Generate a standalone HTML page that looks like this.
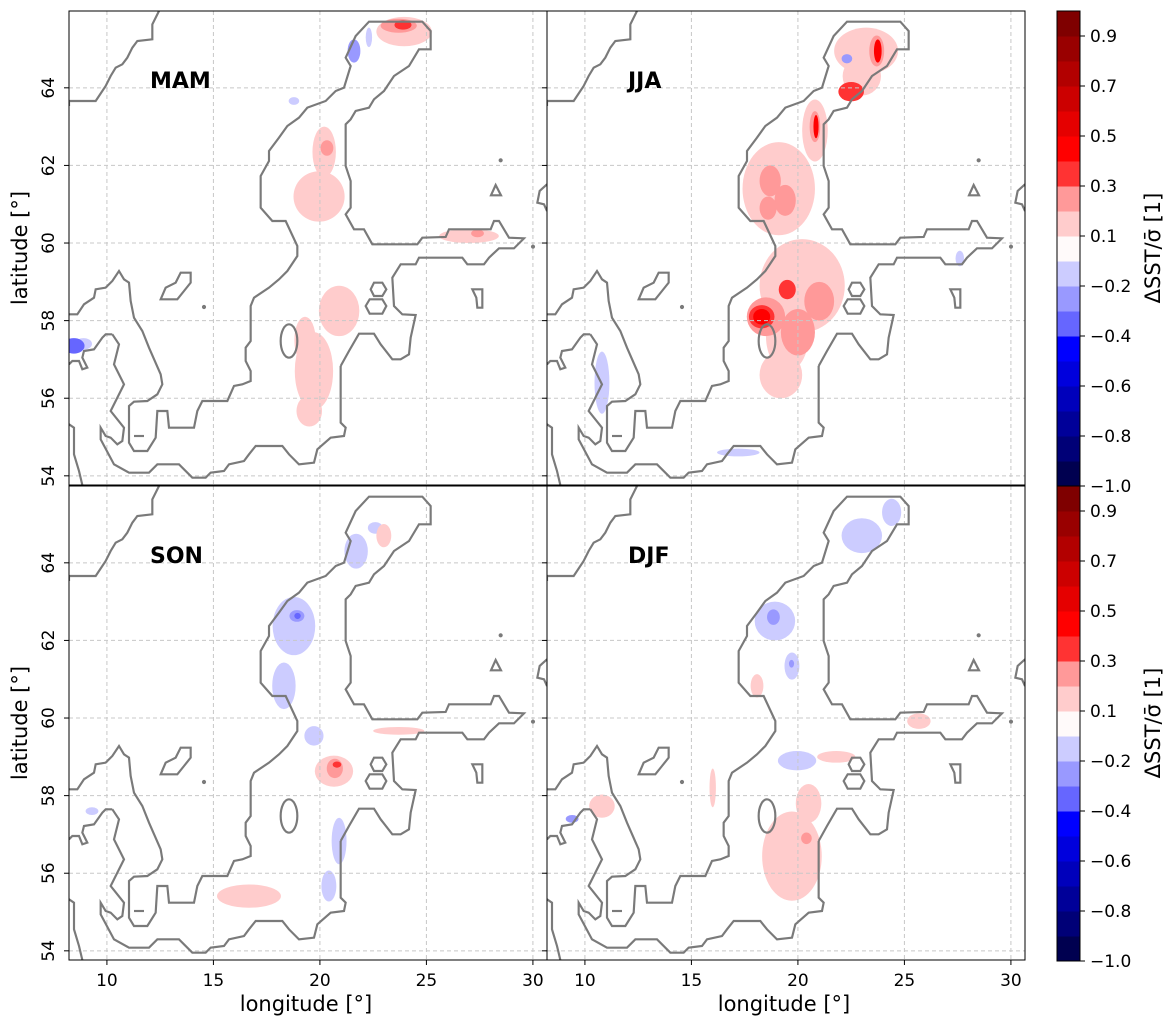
<!DOCTYPE html>
<html><head><meta charset="utf-8"><style>
html,body{margin:0;padding:0;background:#fff;}
svg{display:block;font-family:"DejaVu Sans","Liberation Sans",sans-serif;}
</style></head><body>
<svg id="fig" width="1174" height="1028" viewBox="0 0 1174 1028" xmlns="http://www.w3.org/2000/svg">
<defs>
<g id="coast" fill="none" stroke="#7a7a7a" stroke-width="6.5" stroke-linejoin="miter" transform="scale(0.33333)">
<polyline points="0,285 0,270 80,270 110,225 125,195 140,170 160,160 175,140 190,110 205,90 250,85 250,40 270,0"/>
<polyline points="815,1065 840,1020 870,968 915,968 935,1000 970,1045 995,1045 1020,1030 1025,980 1040,912 1000,910 975,885 970,800 995,760 1040,760 1050,740 1180,740 1195,760 1245,760 1260,740 1290,712 1335,712 1365,682 1320,680 1290,630 1275,630 1265,655 1140,655 1130,678 1060,680 1045,700 910,700 885,655 855,655 830,610 845,590 845,510 830,465 830,340 845,325 860,300 900,290 915,265 945,240 975,195 1020,165 1050,115 1085,115 1085,60 1060,32 900,32 860,75 830,140 845,165 825,230 800,240 770,270 715,290 690,320 655,345 630,380 600,420 600,450 575,495 575,590 610,630 650,630 685,705 685,735 655,780 630,805 600,830 555,860 545,885 545,990 530,1010 530,1050 545,1080 545,1110 520,1120 495,1125 475,1170 400,1170 385,1200 375,1250 300,1250 295,1200 265,1200 260,1280 235,1320 195,1320 180,1295 180,1185 195,1172 235,1170 265,1150 280,1120 275,1090 240,1010 220,960 195,920 185,870 180,815 165,805 150,780 130,810 110,830 80,835 75,860 45,880 25,910 0,910"/>
<polyline points="130,970 150,1000 135,1060 165,1120 125,1200 165,1250 160,1290 145,1300 125,1280 110,1275 95,1250 95,1285 135,1360 180,1385 240,1385 265,1360 330,1360 370,1400 410,1400 425,1385 465,1380 480,1360 525,1350 540,1330 560,1305 640,1305 660,1330 690,1360 735,1355 745,1315 785,1280 825,1275 830,1250 815,1235 815,1065"/>
<polyline points="130,970 110,970 100,980 75,1015 45,1020 40,1040 55,1070 40,1075 30,1050 10,1050 0,1060"/>
<polyline points="0,1240 15,1250 15,1330 30,1380 40,1422"/>
<polyline points="195,1275 225,1275"/>
<ellipse cx="660" cy="990" rx="25" ry="50"/>
<polygon points="275,865 290,830 320,815 335,785 365,785 365,815 345,840 325,865"/>
<polygon points="905,835 915,815 940,815 952,835 940,855 915,855"/>
<polygon points="890,885 902,865 940,865 952,885 940,908 902,908"/>
<polygon points="1280,522 1266,553 1296,553"/>
<polygon points="1210,835 1240,835 1240,890 1225,890 1222,860"/>
<polyline points="1434,520 1412,540 1405,575 1425,580 1434,600"/>
<circle cx="1295" cy="448" r="3" fill="#7a7a7a"/>
<circle cx="405" cy="888" r="3" fill="#7a7a7a"/>
<circle cx="1392" cy="707" r="3" fill="#7a7a7a"/>
</g>
</defs>
<g id="panels"></g>
<g id="cbars"></g>
</svg>
<script>
// ---- data ----
const lonTicks = [10, 15, 20, 25, 30];
const latTicks = [54, 56, 58, 60, 62, 64];
const seasons = ["MAM", "JJA", "SON", "DJF"];
const cbEdges = [-10,-0.8,-0.7,-0.6,-0.5,-0.4,-0.3,-0.2,-0.1,0.0,0.1,0.2,0.3,0.4,0.5,0.6,0.7,0.8,0.9];
const cbColors = ["#000050","#000077","#000099","#0000bb","#0000dd","#0000ff","#6666ff","#9999ff","#ccccff","#fffafa","#ffcccc","#ff9999","#ff3333","#ff0000","#e50000","#cc0000","#b20000","#990000","#7f0000"];
const cbTickLabels = ["0.9","0.7","0.5","0.3","0.1","\u22120.2","\u22120.4","\u22120.6","\u22120.8","\u22121.0"];
// blobs: [lon, lat, rxDeg, ryDeg, value]
const mamBlobs = [
 [23.95,65.45,1.3,0.38,0.15],[23.7,65.6,0.85,0.18,0.25],[23.9,65.62,0.4,0.12,0.35],
 [21.6,64.95,0.3,0.3,-0.15],[22.3,65.3,0.15,0.25,-0.05],
 [19.96,61.2,1.2,0.65,0.15],[20.2,62.35,0.55,0.65,0.15],[20.33,62.45,0.3,0.2,0.25],
 [20.9,58.25,0.95,0.65,0.15],[19.72,56.7,0.9,1.0,0.15],[19.5,55.67,0.6,0.4,0.15],[19.3,57.5,0.5,0.6,0.15],
 [27.0,60.18,1.4,0.18,0.15],[27.4,60.25,0.3,0.1,0.25],
 [8.45,57.35,0.5,0.2,-0.25],[8.9,57.4,0.4,0.15,-0.05],[18.78,63.66,0.25,0.1,-0.05]
];
const jjaBlobs = [
 [23.2,64.95,1.5,0.6,0.15],[23.0,64.3,0.9,0.5,0.15],[23.7,64.95,0.35,0.4,0.25],[23.75,64.95,0.18,0.3,0.45],
 [22.5,63.9,0.6,0.25,0.35],[22.3,64.75,0.25,0.12,-0.15],
 [20.8,62.9,0.6,0.8,0.15],[20.8,63.0,0.25,0.4,0.25],[20.85,63.0,0.12,0.3,0.45],
 [19.1,61.4,1.7,1.2,0.15],[18.7,61.6,0.5,0.4,0.25],[19.4,61.1,0.5,0.4,0.25],[18.6,60.9,0.4,0.3,0.25],
 [20.2,58.9,2.0,1.2,0.15],[19.5,57.6,1.0,0.9,0.15],
 [18.5,58.1,0.9,0.5,0.25],[18.3,58.1,0.6,0.3,0.35],[18.3,58.1,0.4,0.2,0.45],
 [19.5,58.8,0.4,0.25,0.35],[21.0,58.5,0.7,0.5,0.25],[20.0,57.7,0.8,0.6,0.25],
 [19.2,56.6,1.0,0.6,0.15],[10.8,56.4,0.35,0.8,-0.05],[17.2,54.6,1.0,0.1,-0.05],[27.6,59.6,0.2,0.2,-0.05]
];
const sonBlobs = [
 [21.7,64.3,0.55,0.45,-0.05],[23.0,64.7,0.35,0.3,0.15],[22.6,64.9,0.35,0.15,-0.05],
 [18.78,62.37,1.0,0.75,-0.05],[18.92,62.63,0.35,0.15,-0.15],[18.95,62.63,0.15,0.08,-0.25],
 [18.31,60.83,0.55,0.6,-0.05],[19.72,59.54,0.45,0.25,-0.05],
 [20.66,58.63,0.9,0.4,0.15],[20.7,58.7,0.38,0.25,0.25],[20.8,58.8,0.2,0.08,0.35],
 [23.7,59.67,1.2,0.1,0.15],[20.9,56.83,0.35,0.6,-0.05],[20.42,55.67,0.35,0.4,-0.05],
 [16.67,55.41,1.5,0.3,0.15],[9.3,57.6,0.3,0.1,-0.05]
];
const djfBlobs = [
 [23.0,64.7,0.95,0.45,-0.05],[24.4,65.3,0.45,0.35,-0.05],
 [18.92,62.5,0.95,0.5,-0.05],[18.85,62.6,0.3,0.2,-0.15],[19.72,61.34,0.35,0.35,-0.05],[19.7,61.4,0.12,0.1,-0.15],
 [19.96,58.9,0.9,0.25,-0.05],[19.72,56.44,1.4,1.15,0.15],[20.5,57.8,0.6,0.5,0.15],[20.4,56.9,0.25,0.15,0.25],
 [21.8,59.0,0.9,0.15,0.15],[25.68,59.92,0.55,0.2,0.15],[18.08,60.83,0.3,0.3,0.15],
 [10.8,57.73,0.6,0.3,0.15],[9.4,57.4,0.3,0.1,-0.15],[16.0,58.2,0.15,0.5,0.15]
];
const blobSets = [mamBlobs, jjaBlobs, sonBlobs, djfBlobs];

// ---- layout ----
const NS = "http://www.w3.org/2000/svg";
const LON0 = 8.22, LAT1 = 65.98, PXLON = 21.3, PXLAT = 38.8, PW = 478, PH = 474;
const origins = [[69,11],[547,11],[69,486],[547,486]];
function mk(tag, attrs, parent){ const e=document.createElementNS(NS,tag); for(const k in attrs) e.setAttribute(k,attrs[k]); parent.appendChild(e); return e; }
function colorFor(v){ let c=null; for(let i=0;i<cbEdges.length;i++){ if(v>=cbEdges[i]) c=cbColors[i]; } return c; }
const panels=document.getElementById("panels");
origins.forEach((o,pi)=>{
  const [x0,y0]=o;
  const xs=lon=>x0+(lon-LON0)*PXLON, ys=lat=>y0+(LAT1-lat)*PXLAT;
  const g=mk("g",{},panels);
  
  
  const cp=mk("clipPath",{id:"clip"+pi},g);
  mk("rect",{x:x0,y:y0,width:PW,height:PH},cp);
  const inner=mk("g",{"clip-path":"url(#clip"+pi+")"},g);
  const bl=blobSets[pi].slice().sort((a,b)=>Math.abs(a[4])-Math.abs(b[4]));
  bl.forEach(b=>{
    const col=colorFor(b[4]); if(!col) return;
    const e=mk("ellipse",{cx:xs(b[0]),cy:ys(b[1]),rx:b[2]*PXLON,ry:b[3]*PXLAT,fill:col},inner);
    
    
  });
  lonTicks.forEach(t=>{ const l=mk("line",{x1:xs(t),x2:xs(t),y1:y0,y2:y0+PH,stroke:"#c8c8c8","stroke-dasharray":"4,3","stroke-width":1},inner);
      });
  latTicks.forEach(t=>{ const l=mk("line",{x1:x0,x2:x0+PW,y1:ys(t),y2:ys(t),stroke:"#c8c8c8","stroke-dasharray":"4,3","stroke-width":1},inner);
      });
  const u=mk("use",{href:"#coast",transform:"translate("+x0+","+y0+")"},inner);
  
  
  const fr=mk("rect",{x:x0,y:y0,width:PW,height:PH,fill:"none",stroke:"#000","stroke-width":1},g);
  
  
  const tt=mk("text",{x:x0+81,y:y0+77,"font-size":22,"font-weight":"bold",fill:"#000"},g);
  tt.textContent=seasons[pi];
  
  
  latTicks.forEach(t=>{
    mk("line",{x1:x0-5,x2:x0,y1:ys(t),y2:ys(t),stroke:"#000"},g);
    if(pi%2===0){
      const tx=mk("text",{x:0,y:0,transform:"translate("+(x0-15)+","+ys(t)+") rotate(-90)","font-size":17,"text-anchor":"middle"},g);
      tx.textContent=t;
      
      
    }
  });
  if(pi>=2){
    lonTicks.forEach(t=>{
      mk("line",{x1:xs(t),x2:xs(t),y1:y0+PH,y2:y0+PH+5,stroke:"#000"},g);
      const tx=mk("text",{x:xs(t),y:y0+PH+26,"font-size":17,"text-anchor":"middle"},g);
      tx.textContent=t;
      
      
    });
    const xl=mk("text",{x:x0+PW/2-2,y:1011,"font-size":21,"text-anchor":"middle"},g);
    xl.textContent="longitude [°]";
    
    
  }
  if(pi%2===0){
    const yl=mk("text",{x:0,y:0,transform:"translate(27,"+(y0+PH/2)+") rotate(-90)","font-size":21,"text-anchor":"middle"},g);
    yl.textContent="latitude [°]";
    
    
  }
});
const cbars=document.getElementById("cbars");
[11,486].forEach((top,ci)=>{
  const g=mk("g",{},cbars);
  
  
  const cx=1057, cw=23, ch=25;
  const n=cbColors.length;
  for(let i=0;i<n;i++){
    const r=mk("rect",{x:cx,y:top+(n-1-i)*ch,width:cw,height:ch+0.5,fill:cbColors[i]},g);
    
    
  }
  mk("rect",{x:cx,y:top,width:cw,height:n*ch,fill:"none",stroke:"#000","stroke-width":1},g);
  cbTickLabels.forEach((lab,i)=>{
    const y=top+25+50*i;
    mk("line",{x1:cx+cw,x2:cx+cw+5,y1:y,y2:y,stroke:"#000"},g);
    const t=mk("text",{x:cx+cw+10,y:y+6,"font-size":17},g);
    t.textContent=lab;
    
    
  });
  const lt=mk("text",{x:0,y:0,transform:"translate(1160,"+(top+237)+") rotate(-90)","font-size":21,"text-anchor":"middle"},g);
  lt.textContent="ΔSST/σ̄ [1]";
  
  
});
</script>
</body></html>
